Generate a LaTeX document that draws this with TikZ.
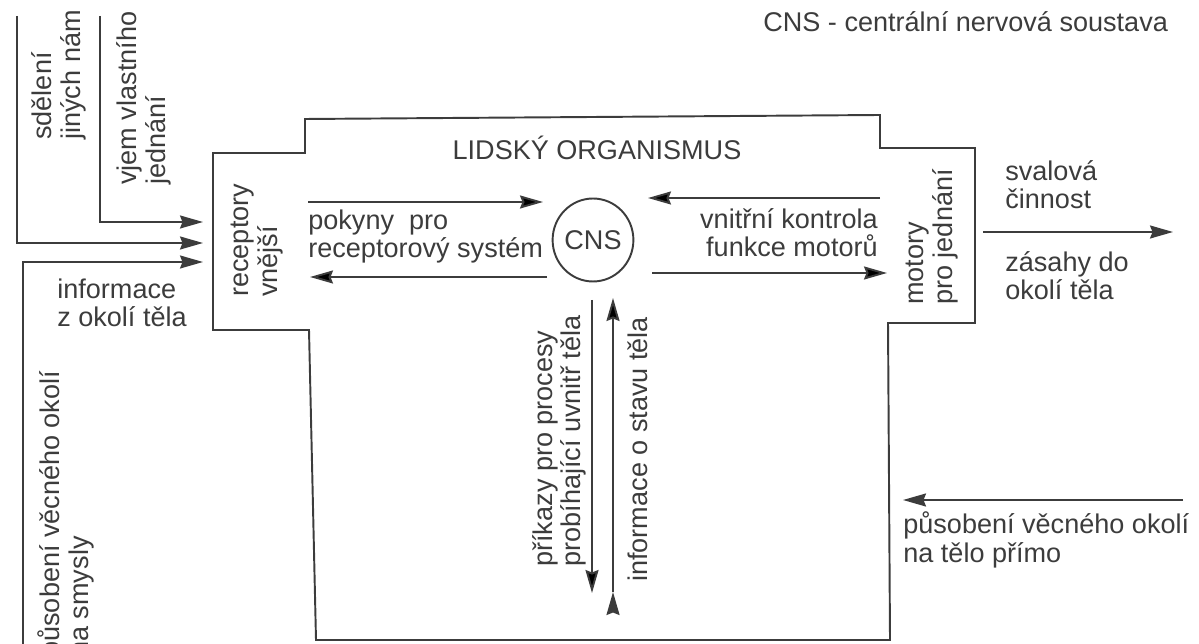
\documentclass[tikz,border=0pt]{standalone}
\usepackage{fontspec}
\setmainfont{Liberation Sans}
\usepackage{xcolor}
\usetikzlibrary{arrows.meta,positioning,shapes.geometric}
\definecolor{ink}{HTML}{3C3C3C}

\begin{document}
\begin{tikzpicture}[
  x=0.02cm, y=-0.02cm,
  lbl/.style={inner sep=0pt, align=left, text=ink, font=\fontsize{15.4}{16.5}\selectfont},
  vlbl/.style={lbl, rotate=90, anchor=base west},
  hub/.style={ellipse, draw=ink, line width=1.1pt, minimum width=1.48cm, minimum height=1.66cm, inner sep=0pt, text=ink, font=\fontsize{15.4}{16.5}\selectfont},
  flow/.style={draw=ink, line width=1.1pt, -{Stealth[length=0.46cm, width=0.26cm, inset=0.05cm]}},
  body/.style={draw=ink, line width=1.1pt, line join=miter}
]
  \useasboundingbox (0,0) rectangle (1199,644);

  % organism outline
  \draw[body] (213,153) -- (305,153) -- (305,119) -- (880,115) -- (880,148)
    -- (975,148) -- (975,323) -- (888,323) -- (890,640) -- (316,640)
    -- (309,330) -- (213,330) -- cycle;

  % texts inside (base = last line)
  \node[lbl, anchor=base west] (legend) at (763,32) {CNS - centrální nervová soustava};
  \node[lbl, anchor=base] (org) at (597,160) {LIDSKÝ ORGANISMUS};
  \node[hub] (cns) at (593,240) {CNS};
  \node[vlbl] (rcp) at (277,297) {receptory\\vnější};
  \node[vlbl] (mot) at (952,305) {motory\\pro jednání};
  \node[lbl, anchor=base west] (pok) at (308,258) {pokyny~~pro\\receptorový systém};
  \node[lbl, anchor=base east, align=right] (vnk) at (878,257) {vnitřní kontrola\\funkce motorů};
  \node[vlbl, font=\fontsize{15.4}{14.2}\selectfont] (prk) at (580,567) {příkazy pro procesy\\probíhající uvnitř těla};
  \node[vlbl] (ist) at (647,582) {informace o stavu těla};

  % texts outside
  \node[vlbl] (sdl) at (80,140) {sdělení\\jiných nám};
  \node[vlbl] (vjm) at (165,185) {vjem vlastního\\jednání};
  \node[lbl, anchor=base west] (inf) at (57,327) {informace\\z okolí těla};
  \node[vlbl] (smy) at (88,657) {působení věcného okolí\\na smysly};
  \node[lbl, anchor=base west] (sva) at (1005,209) {svalová\\činnost};
  \node[lbl, anchor=base west] (zas) at (1005,300) {zásahy do\\okolí těla};
  \node[lbl, anchor=base west] (pso) at (903,562) {působení věcného okolí\\na tělo přímo};

  % arrow ends
  \coordinate (sdlA) at (17,16);   \coordinate (sdlB) at (203,243);
  \coordinate (vjmA) at (100,16);  \coordinate (vjmB) at (203,222);
  \coordinate (infA) at (23,660);  \coordinate (infB) at (203,262);
  \coordinate (pokA) at (308,202); \coordinate (pokB) at (543,202);
  \coordinate (recA) at (547,277); \coordinate (recB) at (310,277);
  \coordinate (vnkA) at (880,198); \coordinate (vnkB) at (648,198);
  \coordinate (funA) at (652,273); \coordinate (funB) at (887,273);
  \coordinate (prkA) at (592,300); \coordinate (prkB) at (592,593);
  \coordinate (istA) at (613,592); \coordinate (istB) at (613,298);
  \coordinate (svaA) at (983,232); \coordinate (svaB) at (1173,232);
  \coordinate (psoA) at (1183,500); \coordinate (psoB) at (903,500);

  % into receptors
  \draw[flow] (sdlA) |- (sdlB);
  \draw[flow] (vjmA) |- (vjmB);
  \draw[flow] (infA) |- (infB);

  % CNS links
  \path[flow]
    (pokA) edge (pokB)
    (recA) edge (recB)
    (vnkA) edge (vnkB)
    (funA) edge (funB)
    (prkA) edge (prkB)
    (istA) edge (istB);

  % outside the body
  \draw[flow] (svaA) -- (svaB);
  \draw[flow] (psoA) -- (psoB);
\end{tikzpicture}
\end{document}
